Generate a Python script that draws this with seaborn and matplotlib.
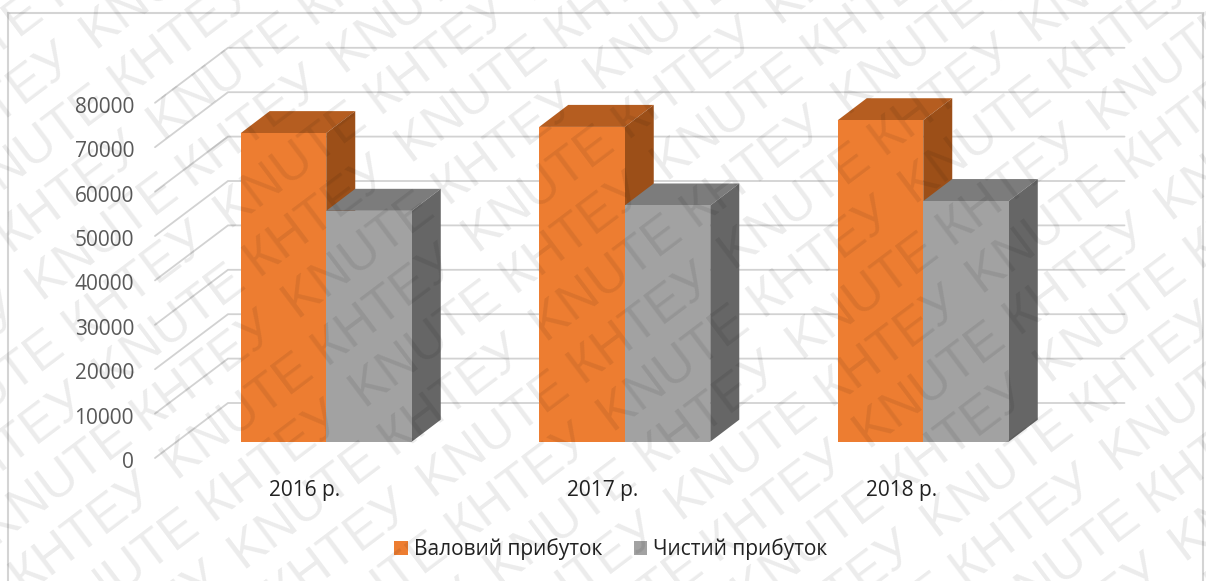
import numpy as np
import pandas as pd
import seaborn as sns
import matplotlib
matplotlib.use("Agg")
import matplotlib.pyplot as plt
from matplotlib.patches import Polygon, Rectangle
from matplotlib.transforms import ScaledTranslation

years = ["2016 р.", "2017 р.", "2018 р."]
gross_profit = [69500, 70900, 72400]
net_profit = [52000, 53200, 54200]
series_names = ["Валовий прибуток", "Чистий прибуток"]
y_ticks = [0, 10000, 20000, 30000, 40000, 50000, 60000, 70000, 80000]
front_colors = ["#ED7D31", "#A2A2A2"]
top_colors = ["#B55D20", "#7C7C7C"]
side_colors = ["#9C4F18", "#666666"]
stamp = "KNUTE КНТЕУ"

W, H = 1206, 581
DPI = 100
plt.rcdefaults()
sns.set_theme(style="white")
plt.rcParams["font.family"] = ["Open Sans", "DejaVu Sans"]

fig = plt.figure(figsize=(W / DPI, H / DPI), dpi=DPI, facecolor="white")
# plot area in pixels: category band 177..1072.5, bar baseline 441.7, 80000 at 86.5
left, right, base, top = 177, 1072.5, 441.7, 86.5
ax = fig.add_axes([left / W, 1 - base / H, (right - left) / W, (base - top) / H])

df = pd.DataFrame({
    "year": years * 2,
    "series": [series_names[0]] * 3 + [series_names[1]] * 3,
    "value": gross_profit + net_profit,
})
sns.barplot(data=df, x="year", y="value", hue="series", palette=front_colors,
            width=0.573, gap=0, saturation=1, linewidth=0, ax=ax, legend=True)
ax.set_xlim(-0.5, 2.5)
ax.set_ylim(0, 80000)

px_x = 3 / (right - left)          # data units per horizontal pixel
px_y = 80000 / (base - top)        # data units per vertical pixel
depth_x, depth_y = 29 * px_x, 22 * px_y

# extruded top and side faces for each bar
for i, cont in enumerate(ax.containers):
    for bar in cont:
        x0, x1, h = bar.get_x(), bar.get_x() + bar.get_width(), bar.get_height()
        ax.add_patch(Polygon([(x0, h), (x1, h), (x1 + depth_x, h + depth_y), (x0 + depth_x, h + depth_y)],
                             closed=True, fc=top_colors[i], ec="none", zorder=2 + 2 * i, clip_on=False))
        ax.add_patch(Polygon([(x1, 0), (x1 + depth_x, depth_y), (x1 + depth_x, h + depth_y), (x1, h)],
                             closed=True, fc=side_colors[i], ec="none", zorder=2 + 2 * i, clip_on=False))
        bar.set_zorder(3 + 2 * i)

# floor edge and back wall gridlines
wall_x0 = -0.5 + (155 - left) * px_x
wall_x1 = -0.5 + (228 - left) * px_x
wall_x2 = -0.5 + (1124.5 - left) * px_x
front_dy, back_dy = -16.3 * px_y, 38.7 * px_y
for v in y_ticks:
    ax.plot([wall_x0, wall_x1, wall_x2], [v + front_dy, v + back_dy, v + back_dy],
            color="#D2D2D2", lw=1.3, zorder=1, clip_on=False, solid_joinstyle="miter")

for s in ax.spines.values():
    s.set_visible(False)
ax.set_xlabel("")
ax.set_ylabel("")
ax.set_yticks(y_ticks)
ax.set_yticklabels([str(v) for v in y_ticks])
ax.tick_params(axis="both", length=0, labelsize=15)
ax.tick_params(axis="y", labelcolor="#595959", pad=0)
ax.tick_params(axis="x", labelcolor="#222222", pad=0)

shift_y = ScaledTranslation(-(177 - 134) / DPI, -18.3 / DPI, fig.dpi_scale_trans)
for lab in ax.get_yticklabels():
    lab.set_transform(lab.get_transform() + shift_y)
shift_x = ScaledTranslation(-22 / DPI, -38.5 / DPI, fig.dpi_scale_trans)
for lab in ax.get_xticklabels():
    lab.set_transform(lab.get_transform() + shift_x)

handles, labels = ax.get_legend_handles_labels()
ax.get_legend().remove()
fig.legend(handles, labels, loc="center", bbox_to_anchor=(611 / W, 1 - 549 / H), ncol=2,
           frameon=False, fontsize=15, handlelength=0.65, handleheight=0.65,
           handletextpad=0.3, columnspacing=1.5, labelcolor="#222222")

# chart frame, running past the lower edge
fig.add_artist(Rectangle((8 / W, -0.1), (1203 - 8) / W, 1 - 13 / H + 0.1, transform=fig.transFigure,
                         fc="none", ec="#D4D4D4", lw=1.5, zorder=0.5))

# diagonal stamp repeated across the whole sheet
tilt = 37
angle = np.deg2rad(tilt)
along, across = 378, 56
anchor_x, anchor_y = 1117, 473   # start of one stamp, in pixels from the top left
for r in range(-24, 12):
    for c in range(-10, 10):
        a = c * along + (r % 2) * (along / 2 + 5)
        b = r * across
        px = anchor_x + a * np.cos(angle) + b * np.sin(angle)
        py = anchor_y - a * np.sin(angle) + b * np.cos(angle)
        if -320 < px < W + 20 and -20 < py < H + 320:
            fig.text(px / W, 1 - py / H, stamp, rotation=tilt, rotation_mode="anchor", ha="left", va="baseline",
                     fontsize=37, color="black", alpha=0.08, zorder=20, family=["Liberation Sans"])

fig.savefig("out.png", dpi=DPI)
